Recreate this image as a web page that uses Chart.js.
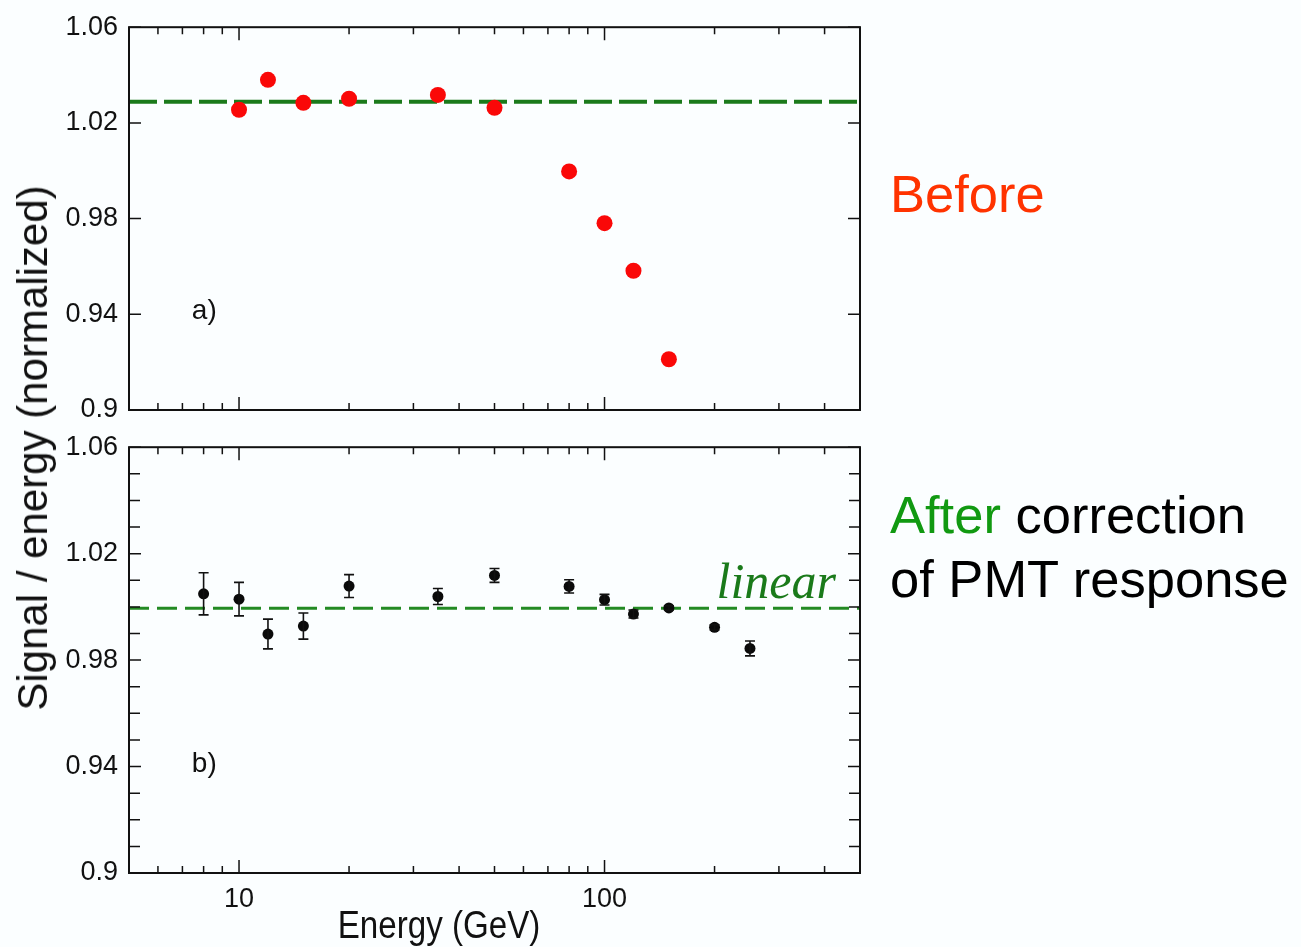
<!DOCTYPE html>
<html>
<head>
<meta charset="utf-8">
<script src="https://cdn.jsdelivr.net/npm/chart.js@4.4.1/dist/chart.umd.min.js"></script>
<style>
  body { margin: 0; background: #fbfeff; }
  #wrap { position: relative; width: 1301px; height: 947px; overflow: hidden; background: #fbfeff; }
  canvas { position: absolute; left: 0; }
  #topPanel { top: 0; }
  #bottomPanel { top: 420px; }
  .note { position: absolute; font-family: "Liberation Sans", Arial, sans-serif; font-size: 52.5px; line-height: 64px; color: #000; white-space: nowrap; }
  #yTitle {
    position: absolute; left: 32.5px; top: 448px;
    transform: translate(-50%, -50%) rotate(-90deg);
    font-family: "Liberation Sans", Arial, sans-serif; font-size: 42px; line-height: 42px;
    white-space: nowrap; color: #111;
  }
</style>
</head>
<body>
<div id="wrap">
  <canvas id="topPanel" width="880" height="440"></canvas>
  <canvas id="bottomPanel" width="880" height="527"></canvas>
  <div id="yTitle">Signal / energy (normalized)</div>
  <div class="note" style="left:890px; top:162px; color:#ff3300;">Before</div>
  <div class="note" style="left:890px; top:483px;"><span style="color:#119911;">After</span> correction<br>of PMT response</div>
</div>
<script>
// beam energies (GeV) and response before the PMT correction
const energiesBefore = [10, 12, 15, 20, 35, 50, 80, 100, 120, 150];
const ratioBefore = [1.0255, 1.038, 1.0284, 1.0301, 1.0317, 1.0263, 0.9997, 0.9781, 0.9582, 0.9212];

// after correction, with statistical errors
const energiesAfter = [8, 10, 12, 15, 20, 35, 50, 80, 100, 120, 150, 200, 250];
const ratioAfter = [1.0049, 1.0029, 0.9898, 0.9928, 1.0078, 1.0039, 1.0118, 1.0077, 1.0027, 0.9973, 0.9996, 0.9923, 0.9844];
const errorAfter = [0.0079, 0.0063, 0.0056, 0.0049, 0.0043, 0.003, 0.0026, 0.0025, 0.002, 0.0015, 0.0008, 0.001, 0.0028];

// reference levels (dashed lines)
const levelBefore = 1.0288;
const levelAfter = 0.9995;

// axes
const energyRange = [5, 500];
const ratioRange = [0.9, 1.06];
const xLabelTicks = [10, 100];
const xMinorTicks = [6, 7, 8, 9, 20, 30, 40, 50, 60, 70, 80, 90, 200, 300, 400];
const yLabelTicks = [0.9, 0.94, 0.98, 1.02, 1.06];
const yFineTicks = [0.91, 0.92, 0.93, 0.95, 0.96, 0.97, 0.99, 1.0, 1.01, 1.03, 1.04, 1.05];

const SANS = '"Liberation Sans", Arial, sans-serif';
const INK = '#111';

// frame, inward tick marks, error bars and panel texts
const panelDecor = {
  id: 'panelDecor',
  afterDatasetsDraw(chart, args, opts) {
    const { ctx, chartArea: a, scales: { x, y } } = chart;
    ctx.save();

    // error bars
    if (opts.errors) {
      ctx.strokeStyle = INK;
      ctx.lineWidth = 1.6;
      ctx.beginPath();
      opts.errors.forEach((e, i) => {
        const px = x.getPixelForValue(energiesAfter[i]);
        const hi = y.getPixelForValue(ratioAfter[i] + e);
        const lo = y.getPixelForValue(ratioAfter[i] - e);
        ctx.moveTo(px, hi); ctx.lineTo(px, lo);
        ctx.moveTo(px - 5, hi); ctx.lineTo(px + 5, hi);
        ctx.moveTo(px - 5, lo); ctx.lineTo(px + 5, lo);
      });
      ctx.stroke();
    }

    // tick marks pointing into the plot
    ctx.strokeStyle = INK;
    ctx.lineWidth = 1.5;
    ctx.beginPath();
    const xTick = (v, len) => {
      const px = x.getPixelForValue(v);
      ctx.moveTo(px, a.top); ctx.lineTo(px, a.top + len);
      ctx.moveTo(px, a.bottom); ctx.lineTo(px, a.bottom - len);
    };
    xLabelTicks.forEach(v => xTick(v, 13));
    xMinorTicks.forEach(v => xTick(v, 7));
    const yTick = (v, len) => {
      const py = y.getPixelForValue(v);
      ctx.moveTo(a.left, py); ctx.lineTo(a.left + len, py);
      ctx.moveTo(a.right, py); ctx.lineTo(a.right - len, py);
    };
    yLabelTicks.forEach(v => yTick(v, 12));
    (opts.fineY || []).forEach(v => yTick(v, 11));
    ctx.stroke();

    // frame
    ctx.lineWidth = 2;
    ctx.strokeRect(a.left, a.top, a.right - a.left, a.bottom - a.top);

    // panel letter
    ctx.fillStyle = INK;
    ctx.font = '28px ' + SANS;
    ctx.textAlign = 'left';
    ctx.textBaseline = 'alphabetic';
    ctx.fillText(opts.letter, x.getPixelForValue(7.43), y.getPixelForValue(0.938));

    if (opts.linear) {
      ctx.fillStyle = '#1a7a1a';
      ctx.font = 'italic 50px "Liberation Serif", "Times New Roman", serif';
      ctx.textAlign = 'right';
      ctx.fillText('linear', a.right - 24, y.getPixelForValue(levelAfter) - 10);
    }

    if (opts.xTitle) {
      ctx.fillStyle = INK;
      ctx.font = '39px ' + SANS;
      ctx.textAlign = 'center';
      ctx.translate(a.left + 310, a.bottom + 65);
      ctx.scale(0.85, 1);
      ctx.fillText(opts.xTitle, 0, 0);
    }
    ctx.restore();
  }
};

function yScale() {
  return {
    type: 'linear',
    min: ratioRange[0], max: ratioRange[1],
    grid: { display: false, drawTicks: false },
    border: { display: false },
    afterBuildTicks: s => { s.ticks = yLabelTicks.map(v => ({ value: v })); },
    afterFit: s => { s.width = 129; },
    ticks: {
      color: INK, padding: 11,
      font: { family: SANS, size: 27 },
      callback: v => String(+v.toFixed(2))
    }
  };
}

// ===== a) before correction =====
new Chart(document.getElementById('topPanel'), {
  type: 'scatter',
  data: {
    datasets: [
      {
        data: energiesBefore.map((e, i) => ({ x: e, y: ratioBefore[i] })),
        backgroundColor: 'rgb(250,8,8)',
        borderWidth: 0,
        pointRadius: 8,
        order: 1
      },
      {
        data: energyRange.map(e => ({ x: e, y: levelBefore })),
        showLine: true,
        borderColor: '#1b7a1b',
        borderWidth: 4,
        borderDash: [28, 7],
        pointRadius: 0,
        order: 2
      }
    ]
  },
  options: {
    responsive: false,
    animation: false,
    layout: { padding: { top: 25, right: 20, bottom: 30, left: 0 } },
    plugins: {
      legend: { display: false },
      tooltip: { enabled: false },
      panelDecor: { letter: 'a)' }
    },
    scales: {
      x: { type: 'logarithmic', min: energyRange[0], max: energyRange[1], display: false },
      y: yScale()
    }
  },
  plugins: [panelDecor]
});

// ===== b) after correction =====
new Chart(document.getElementById('bottomPanel'), {
  type: 'scatter',
  data: {
    datasets: [
      {
        data: energiesAfter.map((e, i) => ({ x: e, y: ratioAfter[i] })),
        backgroundColor: '#0a0a0a',
        borderWidth: 0,
        pointRadius: 5.5,
        order: 1
      },
      {
        data: energyRange.map(e => ({ x: e, y: levelAfter })),
        showLine: true,
        borderColor: '#238a23',
        borderWidth: 3,
        borderDash: [20, 8],
        pointRadius: 0,
        order: 2
      }
    ]
  },
  options: {
    responsive: false,
    animation: false,
    layout: { padding: { top: 25, right: 20, bottom: 0, left: 0 } },
    plugins: {
      legend: { display: false },
      tooltip: { enabled: false },
      panelDecor: { letter: 'b)', linear: true, errors: errorAfter, fineY: yFineTicks, xTitle: 'Energy (GeV)' }
    },
    scales: {
      x: {
        type: 'logarithmic', min: energyRange[0], max: energyRange[1],
        grid: { display: false, drawTicks: false },
        border: { display: false },
        afterBuildTicks: s => { s.ticks = xLabelTicks.map(v => ({ value: v })); },
        afterFit: s => { s.height = 74; },
        ticks: {
          color: INK, padding: 10, maxRotation: 0, autoSkip: false,
          font: { family: SANS, size: 27 },
          callback: v => String(v)
        }
      },
      y: yScale()
    }
  },
  plugins: [panelDecor]
});
</script>
</body>
</html>
